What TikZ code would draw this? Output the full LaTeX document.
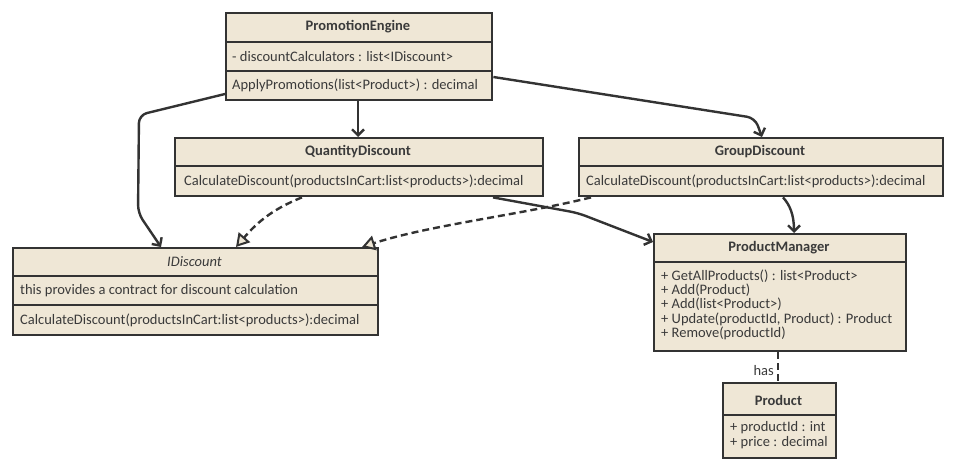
\documentclass[tikz,border=0pt]{standalone}
\usepackage{fontspec}
\setmainfont{Carlito}
\usetikzlibrary{arrows.meta}
\definecolor{umlfill}{HTML}{EFE7D6}
\definecolor{umlline}{HTML}{333333}
\definecolor{umltext}{HTML}{3A3A3A}
\begin{document}
\begin{tikzpicture}[x=1pt,y=-1pt,
  cls/.style={draw=umlline,fill=umlfill,line width=2.4pt,anchor=north west,inner sep=0pt},
  divider/.style={draw=umlline,line width=2pt},
  title/.style={font=\fontsize{14.5}{14.3}\selectfont\bfseries,text=umltext,inner sep=0pt},
  member/.style={font=\fontsize{14.5}{14.3}\selectfont,text=umltext,anchor=west,inner sep=0pt,align=left},
  assoc/.style={draw=umlline,line width=2.4pt,rounded corners=8pt,
    -{Straight Barb[length=6pt,width=12pt,line width=2.4pt]}},
  realize/.style={draw=umlline,line width=2.4pt,dash pattern=on 7pt off 4pt,
    -{Triangle[open,length=13pt,width=15pt,line width=2pt,fill=umlfill]}},
  link/.style={draw=umlline,line width=2.4pt,dash pattern=on 7pt off 4pt}]
\useasboundingbox[fill=white] (0,0) rectangle (954,468);

% PromotionEngine
\node[cls,minimum width=266pt,minimum height=87pt] (pe) at (225,12) {};
\draw[divider] (225,42) -- (491,42) (225,71) -- (491,71);
\node[title] (peT) at (358,27) {PromotionEngine};
\node[member] (peA) at (232,56.5) {- discountCalculators : list<IDiscount>};
\node[member] (peM) at (232,85.5) {ApplyPromotions(list<Product>) : decimal};

% QuantityDiscount
\node[cls,minimum width=368pt,minimum height=58pt] (qd) at (174,137) {};
\draw[divider] (174,166) -- (542,166);
\node[title] (qdT) at (358,152) {QuantityDiscount};
\node[member] (qdM) at (184,181) {CalculateDiscount(productsInCart:list<products>):decimal};

% GroupDiscount
\node[cls,minimum width=364pt,minimum height=58pt] (gd) at (578,137) {};
\draw[divider] (578,166) -- (942,166);
\node[title] (gdT) at (760,152) {GroupDiscount};
\node[member] (gdM) at (586,181) {CalculateDiscount(productsInCart:list<products>):decimal};

% IDiscount
\node[cls,minimum width=365pt,minimum height=87pt] (id) at (12,247) {};
\draw[divider] (12,276) -- (377,276) (12,305) -- (377,305);
\node[title,font=\fontsize{14.5}{14.3}\selectfont\itshape] (idT) at (194.5,262) {IDiscount};
\node[member] (idA) at (20,291) {this provides a contract for discount calculation};
\node[member] (idM) at (20,320) {CalculateDiscount(productsInCart:list<products>):decimal};

% ProductManager
\node[cls,minimum width=252pt,minimum height=117pt] (pm) at (653,233) {};
\draw[divider] (653,262) -- (905,262);
\node[title] (pmT) at (779,248) {ProductManager};
\node[member,anchor=north west] (pmM) at (661,269.5) {+ GetAllProducts() : list<Product>\\+ Add(Product)\\+ Add(list<Product>)\\+ Update(productId, Product) : Product\\+ Remove(productId)};

% Product
\node[cls,minimum width=113pt,minimum height=75pt] (pr) at (722,382) {};
\draw[divider] (722,415) -- (835,415);
\node[title] (prT) at (778.5,400) {Product};
\node[member,anchor=north west] (prM) at (730,421.5) {+ productId : int\\+ price : decimal};

% Associations
\draw[assoc] (pe.west |- 0,94) -- (139,115) -- (138,213) -- (id.north -| 161,0);
\draw[assoc] (pe.south -| 358,0) -- (qd.north -| 358,0);
\draw[assoc] (pe.east |- 0,77) -- (755,118) -- (gd.north -| 762,0);
\draw[assoc] (qd.south -| 493,0) -- (578,213) -- (pm.west |- 0,242);
\draw[assoc] (gd.south -| 783,0) .. controls (790,205) and (794,215) .. (pm.north -| 794,0);

% Realizations
\draw[realize] (qd.south -| 302,0) .. controls (270,210) and (255,225) .. (id.north -| 236,0);
\draw[realize] (gd.south -| 591,0) .. controls (520,215) and (430,225) .. (id.north -| 362,0);

% Product link
\draw[link] (pm.south -| 778,0) -- node[left,pos=0.6,font=\fontsize{14.5}{14}\selectfont,text=umltext,inner sep=3pt] (has) {has} (pr.north -| 778,0);
\end{tikzpicture}
\end{document}
